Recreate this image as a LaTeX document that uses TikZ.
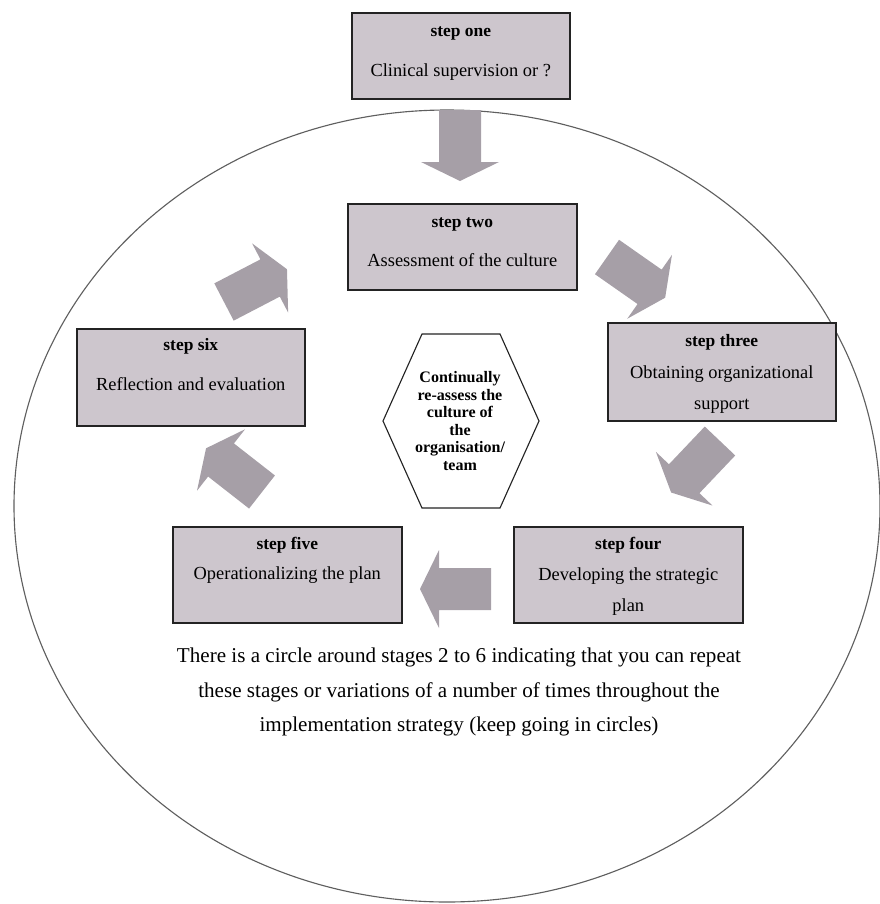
\documentclass[tikz,border=0pt]{standalone}
\usepackage{fontspec}
\setmainfont{Liberation Serif}
\usetikzlibrary{calc}
\definecolor{boxfill}{RGB}{205,198,205}
\definecolor{arrowfill}{RGB}{166,159,167}
\definecolor{boxline}{RGB}{35,35,35}
\definecolor{ringline}{RGB}{95,95,95}
% width, height, first baseline, line distance, title, body
\newcommand{\stepcontent}[6]{%
  \parbox[t][#2][t]{#1}{\centering\fontsize{13.1}{#4}\selectfont
    \rule{0pt}{#3}{\bfseries\fontsize{12.4}{#4}\selectfont #5}\\#6}}
\tikzset{
  stepbox/.style={rectangle, draw=boxline, line width=1.1pt, fill=boxfill,
                  inner sep=0pt, anchor=north west},
  hexnote/.style={align=center, inner sep=0pt,
                  font=\bfseries\fontsize{11.4}{12.4}\selectfont},
  hexline/.style={draw=boxline, line width=0.8pt},
  ring/.style={draw=ringline, line width=0.8pt},
  note/.style={align=center, font=\fontsize{15}{24.5}\selectfont},
  fatarrow/.pic={\fill[arrowfill] (0,-21) -- (52,-21) -- (52,-39) -- (71,0)
                   -- (52,39) -- (52,21) -- (0,21) -- cycle;},
}

\begin{document}
\begin{tikzpicture}[x=0.025cm, y=-0.025cm]
\useasboundingbox (0,0) rectangle (880,904);

% circle round stages 2 to 6
\draw[ring] (447,506) ellipse [x radius=433, y radius=396];

% fat arrows between the steps
\coordinate (a12) at (460,110);
\coordinate (a23) at (607,257);
\coordinate (a34) at (720,441);
\coordinate (a45) at (491,589);
\coordinate (a56) at (262,492);
\coordinate (a62) at (224,302);
\foreach \c/\r in {a12/-90, a23/-35, a34/-133.5, a45/180, a56/142, a62/27.5}
  \pic[rotate=\r] at (\c) {fatarrow};

\node[stepbox] (one) at (351,12)
  {\stepcontent{5.45cm}{2.15cm}{17pt}{28.3pt}{step one}{Clinical supervision or ?}};
\node[stepbox] (two) at (347,203)
  {\stepcontent{5.725cm}{2.15cm}{17pt}{27.6pt}{step two}{Assessment of the culture}};
\node[stepbox] (three) at (607,322)
  {\stepcontent{5.7cm}{2.45cm}{17pt}{22.4pt}{step three}{Obtaining organizational\\support}};
\node[stepbox] (four) at (513,526)
  {\stepcontent{5.725cm}{2.4cm}{16.5pt}{22pt}{step four}{Developing the strategic\\plan}};
\node[stepbox] (five) at (172,526)
  {\stepcontent{5.725cm}{2.4cm}{16.5pt}{21.3pt}{step five}{Operationalizing the plan}};
\node[stepbox] (six) at (76,328)
  {\stepcontent{5.7cm}{2.425cm}{15.5pt}{28.3pt}{step six}{Reflection and evaluation}};

% hexagon in the middle
\node[hexnote] (hex) at (460,421)
  {Continually\\re-assess the\\culture of\\the\\organisation/\\team};
\draw[hexline] ($(hex.center)+(-77,0)$) -- ++(39,-87) -- ++(78,0) -- ++(39,87)
  -- ++(-39,87) -- ++(-78,0) -- cycle;

\node[note] (note) at (459,692)
  {There is a circle around stages 2 to 6 indicating that you can repeat\\
   these stages or variations of a number of times throughout the\\
   implementation strategy (keep going in circles)};
\end{tikzpicture}
\end{document}
